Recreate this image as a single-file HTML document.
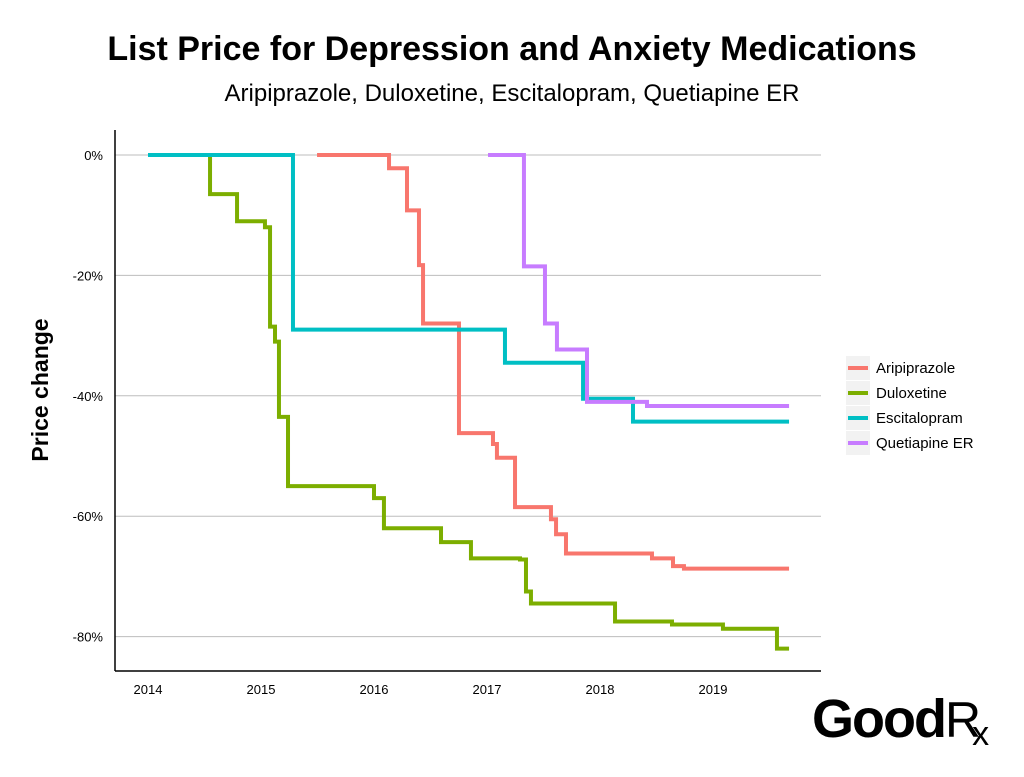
<!DOCTYPE html>
<html><head><meta charset="utf-8"><style>
body{margin:0;background:#fff;}
svg text{font-family:"Liberation Sans",Arial,sans-serif;}
</style></head><body>
<svg id="chart" width="1024" height="772" xmlns="http://www.w3.org/2000/svg">
<text x="512" y="60" text-anchor="middle" font-size="34" font-weight="bold" fill="#000">List Price for Depression and Anxiety Medications</text>
<text x="512" y="101" text-anchor="middle" font-size="24" fill="#000">Aripiprazole, Duloxetine, Escitalopram, Quetiapine ER</text>
<text transform="translate(48,390) rotate(-90)" text-anchor="middle" font-size="23" font-weight="bold" fill="#000">Price change</text>
<g id="grid"></g><g id="series"></g><g id="axes"></g><g id="legend"></g>
<text x="812" y="737" font-size="54" font-weight="bold" fill="#000" letter-spacing="-2">Good<tspan font-weight="normal" font-size="50">R</tspan><tspan font-weight="normal" font-size="34" dx="-7" dy="8">x</tspan></text>
</svg>
<script>
const yTicks=[0,-20,-40,-60,-80];
const yTickLabels=["0%","-20%","-40%","-60%","-80%"];
const xTicks=[2014,2015,2016,2017,2018,2019];
const seriesNames=["Aripiprazole","Duloxetine","Escitalopram","Quetiapine ER"];
const seriesColors=["#F8766D","#7CAE00","#00BFC4","#C77CFF"];
const endDate=2019.673;
const ariDates=[2015.496,2016.133,2016.292,2016.398,2016.434,2016.752,2017.053,2017.088,2017.248,2017.566,2017.611,2017.699,2018.460,2018.646,2018.743];
const ariValues=[0,-2.2,-9.2,-18.3,-28,-46.2,-48,-50.3,-58.5,-60.5,-63,-66.2,-67,-68.3,-68.7];
const dulDates=[2014.549,2014.549,2014.788,2015.035,2015.080,2015.124,2015.159,2015.239,2016.0,2016.088,2016.593,2016.858,2017.292,2017.345,2017.389,2018.133,2018.637,2019.088,2019.566];
const dulValues=[0,-6.5,-11,-12,-28.5,-31,-43.5,-55,-57,-62,-64.3,-67,-67.2,-72.5,-74.5,-77.5,-78,-78.7,-82];
const escDates=[2014.0,2015.283,2017.159,2017.850,2018.292];
const escValues=[0,-29,-34.5,-40.5,-44.3];
const queDates=[2017.009,2017.327,2017.513,2017.619,2017.885,2018.416];
const queValues=[0,-18.5,-28,-32.3,-41,-41.7];
const allDates=[ariDates,dulDates,escDates,queDates];
const allValues=[ariValues,dulValues,escValues,queValues];

const NS="http://www.w3.org/2000/svg";
const L=115,R=821,T=130,B=671;
const xs=d=>148+(d-2014)*113;
const ys=v=>155-v*6.02;
function mk(tag,attrs,parent){const e=document.createElementNS(NS,tag);for(const k in attrs)e.setAttribute(k,attrs[k]);parent.appendChild(e);return e;}
const grid=document.getElementById('grid'),axes=document.getElementById('axes'),ser=document.getElementById('series'),leg=document.getElementById('legend');
yTicks.forEach((t,i)=>{
 const g=mk('line',{x1:L,x2:R,y1:ys(t),y2:ys(t),stroke:'#bdbdbd','stroke-width':1},grid);
 
 
 const tx=mk('text',{x:103,y:ys(t)+5,'text-anchor':'end','font-size':13,fill:'#000'},axes);
 tx.textContent=yTickLabels[i];
 
 
});
xTicks.forEach(t=>{
 const tx=mk('text',{x:xs(t),y:694,'text-anchor':'middle','font-size':13,fill:'#000'},axes);
 tx.textContent=t;
 
 
});
const ya=mk('line',{x1:L,x2:L,y1:T,y2:B,stroke:'#000','stroke-width':1.5},axes);


const xa=mk('line',{x1:L,x2:R,y1:B,y2:B,stroke:'#000','stroke-width':1.5},axes);


allDates.forEach((ds,i)=>{
 const vs=allValues[i];let p='M'+xs(ds[0])+','+ys(vs[0]);
 for(let j=1;j<ds.length;j++){p+=' H'+xs(ds[j])+' V'+ys(vs[j]);}
 p+=' H'+xs(endDate);
 const path=mk('path',{d:p,fill:'none',stroke:seriesColors[i],'stroke-width':4,'stroke-linejoin':'miter'},ser);
 
 
 const y=368+i*25;
 const bg=mk('rect',{x:846,y:y-12,width:24,height:24,fill:'#f2f2f2'},leg);
 
 
 const ln=mk('line',{x1:848,x2:868,y1:y,y2:y,stroke:seriesColors[i],'stroke-width':4},leg);
 
 
 const tx=mk('text',{x:876,y:y+5,'font-size':15,fill:'#000'},leg);
 tx.textContent=seriesNames[i];
 
 
});
</script>
</body></html>
